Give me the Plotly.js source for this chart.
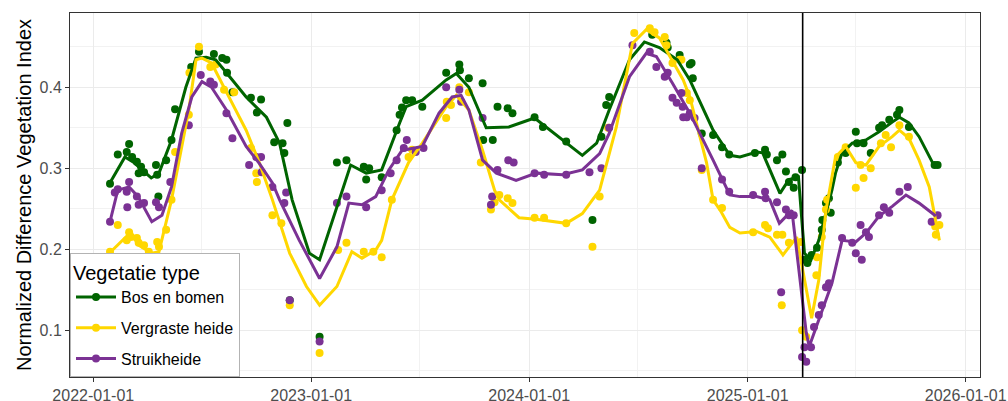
<!DOCTYPE html>
<html>
<head>
<meta charset="utf-8">
<script src="https://cdn.plot.ly/plotly-3.0.1.min.js"></script>
<style>
  html, body { margin: 0; padding: 0; background: #fff; }
  #plot { width: 1008px; height: 401px; }
</style>
</head>
<body>
<div id="plot"></div>
<script>
// Bos en bomen - losse metingen
const bosDates = ['2022-01-29','2022-02-11','2022-02-26','2022-03-02','2022-03-07','2022-03-15','2022-03-18','2022-03-22','2022-03-27','2022-04-16','2022-04-18','2022-04-20','2022-05-03','2022-05-12','2022-05-18','2022-06-14','2022-06-27','2022-07-22','2022-08-05','2022-08-12','2022-08-13','2022-08-22','2022-09-22','2022-10-02','2022-10-09','2022-10-31','2022-11-14','2022-11-17','2022-11-22','2022-11-26','2023-01-15','2023-02-13','2023-03-01','2023-03-30','2023-04-03','2023-04-08','2023-04-29','2023-05-24','2023-05-29','2023-06-02','2023-06-09','2023-06-19','2023-07-06','2023-08-15','2023-09-06','2023-09-07','2023-09-22','2023-10-15','2023-10-16','2023-11-01','2023-11-09','2023-11-26','2023-12-04','2024-01-10','2024-01-24','2024-03-03','2024-04-16','2024-05-01','2024-05-09','2024-05-14','2024-07-25','2024-08-18','2024-08-20','2024-09-09','2024-09-26','2024-09-29','2024-10-01','2024-10-16','2024-11-04','2024-11-19','2024-12-01','2025-01-13','2025-01-30','2025-02-02','2025-02-19','2025-02-28','2025-03-06','2025-03-11','2025-03-19','2025-03-22','2025-04-02','2025-04-06','2025-04-11','2025-04-18','2025-04-27','2025-05-05','2025-05-06','2025-05-12','2025-05-17','2025-05-20','2025-06-01','2025-06-14','2025-07-01','2025-07-03','2025-07-14','2025-07-26','2025-08-09','2025-08-14','2025-08-26','2025-09-08','2025-09-12','2025-09-28','2025-11-10','2025-11-15'];
const bosNdvi = [0.281,0.317,0.320,0.330,0.314,0.308,0.294,0.302,0.295,0.304,0.292,0.265,0.310,0.335,0.373,0.425,0.444,0.441,0.436,0.434,0.418,0.394,0.387,0.369,0.385,0.332,0.331,0.319,0.356,0.137,0.092,0.307,0.310,0.302,0.286,0.300,0.289,0.347,0.366,0.375,0.384,0.384,0.376,0.418,0.428,0.421,0.411,0.405,0.335,0.335,0.376,0.374,0.368,0.363,0.351,0.333,0.236,0.339,0.378,0.388,0.465,0.455,0.449,0.440,0.428,0.430,0.411,0.343,0.341,0.326,0.317,0.319,0.323,0.317,0.310,0.317,0.296,0.283,0.276,0.289,0.298,0.187,0.183,0.193,0.202,0.224,0.236,0.257,0.263,0.245,0.307,0.319,0.345,0.331,0.331,0.319,0.350,0.353,0.360,0.366,0.372,0.351,0.304,0.304];

// Bos en bomen - trendlijn
const bosTrendDates = ['2022-01-29','2022-02-23','2022-03-10','2022-04-08','2022-04-21','2022-05-12','2022-06-05','2022-06-22','2022-07-09','2022-07-25','2022-08-12','2022-09-14','2022-10-18','2022-11-09','2022-11-30','2022-12-29','2023-01-15','2023-02-23','2023-03-08','2023-04-03','2023-04-29','2023-05-29','2023-06-09','2023-07-06','2023-08-15','2023-09-01','2023-09-22','2023-10-21','2023-11-28','2024-01-10','2024-02-05','2024-03-03','2024-03-30','2024-04-23','2024-05-14','2024-06-17','2024-07-12','2024-08-06','2024-09-05','2024-09-26','2024-11-04','2024-12-02','2024-12-19','2025-01-16','2025-01-26','2025-02-24','2025-03-11','2025-03-27','2025-04-06','2025-04-17','2025-04-30','2025-05-22','2025-05-28','2025-06-08','2025-06-25','2025-07-18','2025-08-09','2025-08-31','2025-09-12','2025-09-28','2025-10-15','2025-11-10'];
const bosTrend = [0.282,0.314,0.307,0.288,0.294,0.335,0.400,0.436,0.437,0.434,0.418,0.388,0.363,0.331,0.261,0.195,0.187,0.273,0.304,0.294,0.298,0.356,0.376,0.384,0.409,0.417,0.400,0.350,0.351,0.362,0.347,0.331,0.316,0.331,0.372,0.434,0.456,0.449,0.434,0.409,0.347,0.316,0.314,0.320,0.319,0.269,0.286,0.289,0.195,0.187,0.211,0.273,0.294,0.319,0.331,0.335,0.345,0.357,0.363,0.356,0.339,0.302];

// Vergraste heide - losse metingen
const heideDates = ['2022-01-29','2022-02-11','2022-02-26','2022-03-02','2022-03-05','2022-03-15','2022-03-18','2022-03-27','2022-04-04','2022-04-18','2022-04-21','2022-04-22','2022-05-03','2022-05-12','2022-05-18','2022-06-10','2022-06-11','2022-06-27','2022-07-16','2022-07-25','2022-08-08','2022-08-25','2022-09-22','2022-10-01','2022-10-02','2022-10-28','2022-11-12','2022-11-26','2023-01-15','2023-02-15','2023-03-01','2023-03-30','2023-04-15','2023-04-29','2023-05-16','2023-06-13','2023-06-19','2023-08-15','2023-08-16','2023-08-23','2023-09-06','2023-09-22','2023-10-12','2023-10-29','2023-11-04','2023-11-12','2023-11-26','2023-12-04','2024-01-10','2024-01-26','2024-03-03','2024-04-16','2024-04-28','2024-05-12','2024-06-25','2024-07-21','2024-07-29','2024-08-15','2024-08-18','2024-08-28','2024-09-09','2024-09-12','2024-09-21','2024-09-26','2024-10-16','2024-11-04','2024-11-19','2025-01-10','2025-01-30','2025-02-04','2025-02-19','2025-02-27','2025-02-28','2025-03-11','2025-03-31','2025-04-02','2025-04-09','2025-04-26','2025-04-27','2025-05-05','2025-05-12','2025-05-14','2025-06-01','2025-06-14','2025-07-01','2025-07-09','2025-07-14','2025-07-26','2025-08-12','2025-08-20','2025-08-29','2025-09-12','2025-09-28','2025-11-11','2025-11-12','2025-11-18'];
const heideNdvi = [0.197,0.230,0.211,0.221,0.215,0.214,0.208,0.205,0.197,0.209,0.203,0.177,0.224,0.261,0.320,0.366,0.418,0.450,0.425,0.428,0.397,0.394,0.325,0.294,0.283,0.242,0.232,0.131,0.072,0.199,0.208,0.197,0.197,0.190,0.261,0.314,0.323,0.362,0.382,0.378,0.400,0.394,0.307,0.249,0.258,0.267,0.263,0.257,0.239,0.239,0.232,0.203,0.265,0.350,0.467,0.473,0.468,0.462,0.452,0.430,0.434,0.434,0.393,0.384,0.298,0.261,0.251,0.221,0.230,0.226,0.218,0.131,0.218,0.208,0.209,0.100,0.092,0.168,0.190,0.215,0.249,0.261,0.314,0.326,0.276,0.304,0.288,0.300,0.331,0.341,0.326,0.353,0.339,0.228,0.218,0.230];

// Vergraste heide - trendlijn
const heideTrendDates = ['2022-01-29','2022-03-05','2022-03-18','2022-04-09','2022-04-21','2022-05-12','2022-06-10','2022-06-22','2022-07-02','2022-07-18','2022-08-12','2022-09-14','2022-10-06','2022-10-28','2022-11-26','2022-12-24','2023-01-15','2023-02-13','2023-03-10','2023-03-27','2023-04-19','2023-04-29','2023-05-16','2023-06-13','2023-07-06','2023-08-15','2023-09-01','2023-09-22','2023-10-15','2023-11-04','2023-11-12','2023-12-15','2024-01-13','2024-03-03','2024-03-30','2024-04-28','2024-05-26','2024-06-22','2024-07-15','2024-08-06','2024-09-15','2024-09-26','2024-10-24','2024-11-04','2024-11-16','2024-12-02','2024-12-19','2025-01-16','2025-02-07','2025-03-01','2025-03-24','2025-04-18','2025-04-30','2025-05-12','2025-05-28','2025-06-14','2025-07-01','2025-07-18','2025-08-09','2025-08-31','2025-09-12','2025-09-28','2025-10-15','2025-11-01','2025-11-18'];
const heideTrend = [0.196,0.221,0.205,0.195,0.197,0.261,0.372,0.434,0.436,0.430,0.394,0.347,0.307,0.261,0.195,0.154,0.131,0.154,0.197,0.189,0.199,0.211,0.261,0.307,0.331,0.376,0.390,0.372,0.322,0.273,0.261,0.239,0.237,0.232,0.244,0.273,0.351,0.454,0.471,0.461,0.409,0.388,0.307,0.261,0.248,0.227,0.220,0.222,0.215,0.193,0.215,0.115,0.162,0.248,0.314,0.327,0.307,0.304,0.327,0.339,0.347,0.337,0.310,0.277,0.211];

// Struikheide - losse metingen
const struikDates = ['2022-01-29','2022-02-06','2022-02-11','2022-02-26','2022-02-27','2022-03-02','2022-03-15','2022-03-18','2022-03-27','2022-04-16','2022-04-21','2022-04-22','2022-05-10','2022-06-10','2022-06-30','2022-07-16','2022-07-22','2022-08-12','2022-08-22','2022-09-19','2022-10-01','2022-10-09','2022-10-10','2022-10-28','2022-11-17','2022-11-20','2022-11-26','2023-01-15','2023-02-13','2023-03-01','2023-04-03','2023-04-29','2023-05-14','2023-05-24','2023-06-05','2023-06-10','2023-06-25','2023-07-08','2023-08-15','2023-09-06','2023-09-09','2023-10-15','2023-10-29','2023-10-31','2023-11-09','2023-11-27','2023-12-06','2024-01-10','2024-01-26','2024-03-03','2024-04-11','2024-05-01','2024-05-14','2024-06-22','2024-07-21','2024-08-01','2024-08-15','2024-08-20','2024-08-28','2024-09-04','2024-09-12','2024-09-14','2024-09-15','2024-09-21','2024-09-26','2024-10-04','2024-10-16','2024-11-19','2024-12-01','2025-01-10','2025-01-30','2025-01-31','2025-02-19','2025-02-26','2025-03-06','2025-03-11','2025-03-19','2025-04-02','2025-04-06','2025-04-09','2025-04-17','2025-04-22','2025-04-30','2025-05-05','2025-05-12','2025-05-17','2025-06-08','2025-06-25','2025-07-01','2025-07-09','2025-07-11','2025-07-18','2025-07-23','2025-08-09','2025-08-17','2025-08-26','2025-09-12','2025-09-26','2025-11-05','2025-11-15'];
const struikNdvi = [0.234,0.270,0.274,0.271,0.252,0.283,0.265,0.255,0.257,0.258,0.252,0.158,0.283,0.353,0.415,0.407,0.403,0.368,0.337,0.304,0.314,0.314,0.295,0.277,0.257,0.270,0.137,0.086,0.257,0.265,0.252,0.273,0.294,0.310,0.325,0.335,0.320,0.325,0.400,0.397,0.382,0.362,0.255,0.265,0.298,0.310,0.307,0.294,0.292,0.292,0.295,0.300,0.350,0.452,0.444,0.425,0.413,0.418,0.387,0.381,0.393,0.376,0.363,0.363,0.368,0.362,0.300,0.286,0.271,0.267,0.271,0.263,0.258,0.147,0.249,0.242,0.242,0.067,0.079,0.061,0.079,0.104,0.119,0.131,0.153,0.158,0.214,0.208,0.195,0.230,0.187,0.221,0.215,0.242,0.252,0.245,0.271,0.277,0.234,0.242];

// Struikheide - trendlijn
const struikTrendDates = ['2022-01-29','2022-02-11','2022-03-02','2022-03-17','2022-04-09','2022-04-26','2022-05-12','2022-05-29','2022-06-15','2022-07-02','2022-07-18','2022-08-12','2022-09-14','2022-10-06','2022-10-28','2022-11-09','2022-12-12','2023-01-15','2023-02-13','2023-03-05','2023-03-27','2023-04-19','2023-05-11','2023-06-02','2023-07-06','2023-08-03','2023-08-25','2023-09-09','2023-09-22','2023-10-15','2023-11-07','2023-12-10','2024-01-13','2024-02-26','2024-03-30','2024-04-28','2024-05-14','2024-06-17','2024-07-15','2024-08-01','2024-08-28','2024-09-26','2024-11-04','2024-12-02','2024-12-19','2025-01-16','2025-02-07','2025-02-23','2025-03-16','2025-04-09','2025-04-14','2025-04-26','2025-05-12','2025-05-22','2025-06-08','2025-07-01','2025-07-18','2025-08-09','2025-08-31','2025-09-23','2025-10-15','2025-11-12'];
const struikTrend = [0.234,0.273,0.277,0.265,0.234,0.242,0.277,0.343,0.388,0.407,0.400,0.372,0.327,0.306,0.282,0.261,0.211,0.164,0.203,0.257,0.255,0.265,0.298,0.322,0.327,0.368,0.388,0.390,0.372,0.310,0.294,0.285,0.294,0.292,0.298,0.318,0.343,0.413,0.442,0.438,0.405,0.368,0.310,0.267,0.265,0.265,0.261,0.232,0.248,0.097,0.080,0.104,0.137,0.158,0.211,0.209,0.220,0.241,0.253,0.267,0.257,0.241];

const groepen = ['Bos en bomen', 'Vergraste heide', 'Struikheide'];
const kleuren = ['#006400', '#FFD700', '#7B3294'];
const ingreepDatum = '2025-04-03';

(function (document) {
    const punten = [[bosDates, bosNdvi], [heideDates, heideNdvi], [struikDates, struikNdvi]];
    const lijnen = [[bosTrendDates, bosTrend], [heideTrendDates, heideTrend], [struikTrendDates, struikTrend]];
    const traces = [];

    // eerst alle punten
    punten.forEach(function (p, i) {
        traces.push({
            x: p[0], y: p[1], type: 'scatter', mode: 'markers',
            marker: { color: kleuren[i], size: 8 },
            showlegend: false, hoverinfo: 'skip'
        });
    });

    // dan de trendlijnen
    lijnen.forEach(function (l, i) {
        traces.push({
            x: l[0], y: l[1], type: 'scatter', mode: 'lines',
            line: { color: kleuren[i], width: 3 },
            showlegend: false, hoverinfo: 'skip'
        });
    });

    // alleen voor de legenda
    groepen.forEach(function (g, i) {
        traces.push({
            x: [null], y: [null], type: 'scatter', mode: 'lines+markers',
            name: g, legendgroup: g,
            line: { color: kleuren[i], width: 3 },
            marker: { color: kleuren[i], size: 8 }
        });
    });

    const layout = {
        width: 1008,
        height: 401,
        margin: { l: 70, r: 28, t: 13, b: 24 },
        paper_bgcolor: '#ffffff',
        plot_bgcolor: '#ffffff',
        font: { family: 'Liberation Sans, Arial, sans-serif', color: '#000000' },
        showlegend: true,
        legend: {
            x: 0, y: 0, xanchor: 'left', yanchor: 'bottom',
            bgcolor: '#ffffff', bordercolor: '#b3b3b3', borderwidth: 1,
            traceorder: 'grouped', tracegroupgap: 7, itemwidth: 40,
            title: { text: 'Vegetatie type', font: { size: 20, color: '#000000' } },
            font: { size: 16, color: '#000000' }
        },
        xaxis: {
            type: 'date',
            range: ['2021-11-23', '2026-01-25'],
            tick0: '2022-01-01', dtick: 'M12', tickformat: '%Y-%m-%d',
            ticks: 'outside', ticklen: 4, tickcolor: '#333333', tickwidth: 1,
            tickfont: { size: 16, color: '#4d4d4d' },
            showgrid: true, gridcolor: '#ebebeb', gridwidth: 1,
            minor: { dtick: 'M6', tick0: '2022-01-01', showgrid: true, gridcolor: '#f2f2f2', gridwidth: 1 },
            showline: true, linecolor: '#333333', linewidth: 1, mirror: true,
            zeroline: false
        },
        yaxis: {
            range: [0.0423, 0.4917],
            tick0: 0, dtick: 0.1, tickformat: '.1f',
            ticks: 'outside', ticklen: 4, tickcolor: '#333333', tickwidth: 1,
            tickfont: { size: 16, color: '#4d4d4d' },
            showgrid: true, gridcolor: '#ebebeb', gridwidth: 1,
            minor: { dtick: 0.05, tick0: 0, showgrid: true, gridcolor: '#f2f2f2', gridwidth: 1 },
            showline: true, linecolor: '#333333', linewidth: 1, mirror: true,
            zeroline: false,
            title: { text: 'Normalized Difference Vegetation Index', font: { size: 20, color: '#000000' }, standoff: 2 }
        },
        shapes: [{
            type: 'line', xref: 'x', yref: 'paper',
            x0: ingreepDatum, x1: ingreepDatum, y0: 0, y1: 1,
            line: { color: '#000000', width: 1.6 }
        }]
    };

    document.addEventListener('DOMContentLoaded', function () {
        Plotly.newPlot('plot', traces, layout, { displayModeBar: false, staticPlot: true });
    });
})(document);
</script>
</body>
</html>
